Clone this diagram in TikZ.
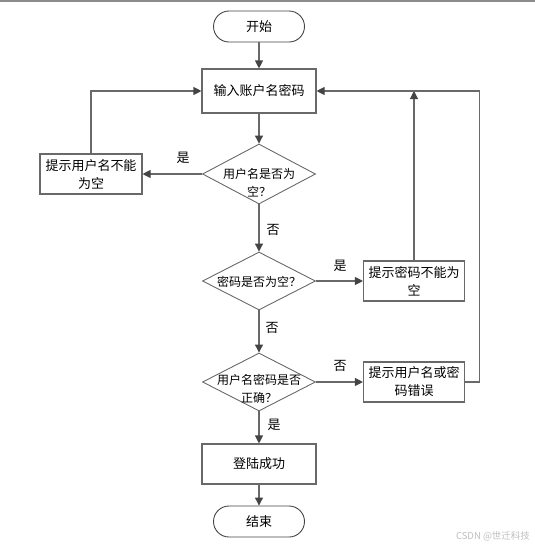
\documentclass[tikz,border=0pt]{standalone}
\usepackage{fontspec}
\newfontfamily\cjk{Noto Sans CJK SC}
\usetikzlibrary{arrows.meta,positioning,shapes.geometric}
\definecolor{lineg}{RGB}{105,105,105}
\definecolor{tipg}{RGB}{68,68,68}
\definecolor{markg}{RGB}{190,190,190}
\begin{document}
\begin{tikzpicture}[x=1pt,y=-1pt,
      block/.style={draw=lineg, line width=1.1pt, rectangle, minimum width=102pt, minimum height=40pt, inner sep=0pt, align=center, font=\cjk\fontsize{13}{18}\selectfont},
      term/.style={draw=tipg, line width=0.9pt, rectangle, rounded corners=15.5pt, minimum width=91pt, minimum height=31pt, inner sep=0pt, font=\cjk\fontsize{13}{18}\selectfont},
      decision/.style={draw=lineg, line width=0.9pt, diamond, minimum width=113pt, minimum height=58pt, inner sep=0pt},
      qtext/.style={align=center, inner sep=0pt, font=\cjk\fontsize{12}{18}\selectfont},
      lbl/.style={font=\cjk\fontsize{13}{15}\selectfont, inner sep=0pt},
      arr/.style={-{Triangle[length=8pt,width=8pt,color=tipg]}, draw=lineg, line width=1.1pt}
    ]
    \useasboundingbox (0,0) rectangle (535,547);
    \fill[gray!90] (0,0) rectangle (535,2);

    \node[term] (start) at (259,26.5) {开始};
    \node[block, minimum width=114pt, minimum height=44pt] (input) at (259,91) {输入账户名密码};
    \node[decision, minimum height=60pt] (q1) at (259,174) {};
    \node[qtext] (q1t) at (259,183) {用户名是否为\\空？};
    \node[block] (warn1) at (91,174) {提示用户名不能\\为空};
    \node[decision] (q2) at (259,281) {};
    \node[qtext] (q2t) at (259,282) {密码是否为空？};
    \node[block, minimum width=101pt] (warn2) at (414,281) {提示密码不能为\\空};
    \node[decision] (q3) at (259,382) {};
    \node[qtext] (q3t) at (259,389) {用户名密码是否\\正确？};
    \node[block, minimum width=101pt] (warn3) at (414,382) {提示用户名或密\\码错误};
    \node[block, minimum width=114pt] (ok) at (259,464) {登陆成功};
    \node[term] (stop) at (259,521.5) {结束};

    \draw[arr] (start) -- (input);
    \draw[arr] (input) -- (q1);
    \draw[arr] (q1.west) -- (warn1.east);
    \draw[arr] (warn1.north) |- (input.west);
    \draw[arr] (q1) -- (q2);
    \draw[arr] (q2.east) -- (warn2.west);
    \draw[arr] (warn2.north) -- (warn2.north |- input.east);
    \draw[arr] (q2) -- (q3);
    \draw[arr] (q3.east) -- (warn3.west);
    \draw[arr] (warn3.east) -- ++(14,0) |- (input.east);
    \draw[arr] (q3) -- (ok);
    \draw[arr] (ok) -- (stop);

    \node[lbl] (yes1) at (183,158) {是};
    \node[lbl] (no1) at (273,230) {否};
    \node[lbl] (yes2) at (340,266) {是};
    \node[lbl] (no2) at (272,328) {否};
    \node[lbl] (no3) at (340,366) {否};
    \node[lbl] (yes3) at (274,425) {是};

    \node[text=markg, font=\cjk\fontsize{9.5}{11}\selectfont] (mark) at (493,536) {CSDN @世迁科技};
  \end{tikzpicture}
\end{document}
